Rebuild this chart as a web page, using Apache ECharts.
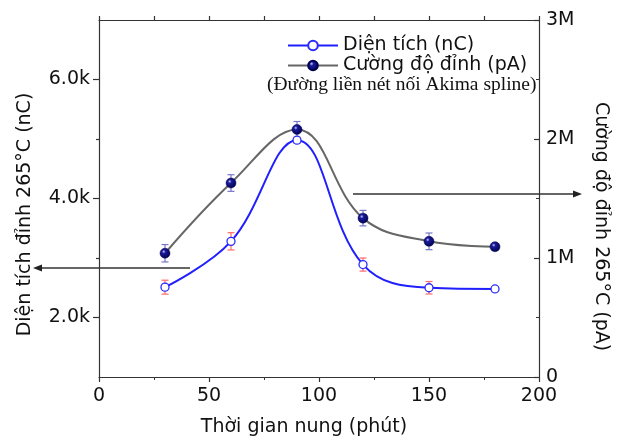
<!DOCTYPE html>
<html>
<head>
<meta charset="utf-8">
<script src="https://cdn.jsdelivr.net/npm/echarts@6/dist/echarts.min.js"></script>
<style>html,body{margin:0;padding:0;background:#fff;}#c{width:620px;height:442px;}</style>
</head>
<body>
<div id="c"></div>
<script>
// ---- data ----
const times = [30, 60, 90, 120, 150, 180];                 // Thời gian nung (phút)
const areaValues = [2510, 3280, 4980, 2890, 2500, 2480];    // Diện tích (nC)
const areaErrors = [117, 145, 50, 110, 105, 35];
const peakValues = [1040000, 1630000, 2080000, 1335000, 1140000, 1095000]; // Cường độ đỉnh (pA)
const peakErrors = [73000, 70000, 67000, 65000, 70000, 15000];
const leftMajorTicks = [2000, 4000, 6000];
const leftMinorTicks = [3000, 5000];

const SANS = 'DejaVu Sans';
const chart = echarts.init(document.getElementById('c'), null, {renderer: 'canvas'});

const areaPoints = times.map((t, i) => [t, areaValues[i]]);
const peakPoints = times.map((t, i) => [t, peakValues[i]]);
const areaErrData = times.map((t, i) => [t, areaValues[i] - areaErrors[i], areaValues[i] + areaErrors[i]]);
const peakErrData = times.map((t, i) => [t, peakValues[i] - peakErrors[i], peakValues[i] + peakErrors[i]]);

function errorBar(color) {
  return function (params, api) {
    const x = api.value(0);
    const lo = api.coord([x, api.value(1)]);
    const hi = api.coord([x, api.value(2)]);
    const hw = 3.5;
    const st = {stroke: color, lineWidth: 1.2};
    return {
      type: 'group',
      children: [
        {type: 'line', shape: {x1: lo[0], y1: lo[1], x2: hi[0], y2: hi[1]}, style: st},
        {type: 'line', shape: {x1: lo[0] - hw, y1: lo[1], x2: lo[0] + hw, y2: lo[1]}, style: st},
        {type: 'line', shape: {x1: hi[0] - hw, y1: hi[1], x2: hi[0] + hw, y2: hi[1]}, style: st}
      ]
    };
  };
}

const axisLineStyle = {color: '#333', width: 1.2};
const navyBall = {
  type: 'radial', x: 0.38, y: 0.35, r: 0.7,
  colorStops: [
    {offset: 0, color: '#c8c8ff'},
    {offset: 0.25, color: '#1a1a9a'},
    {offset: 1, color: '#00004a'}
  ]
};

const option = {
  animation: false,
  backgroundColor: '#fff',
  grid: {left: 99, right: 81, top: 20, bottom: 65, containLabel: false, outerBoundsMode: 'none'},
  legend: {
    orient: 'vertical',
    left: 282, top: 31,
    itemWidth: 50, itemHeight: 12, itemGap: 1,
    textStyle: {fontFamily: SANS, fontSize: 19, color: '#111'},
    data: ['Diện tích (nC)', 'Cường độ đỉnh (pA)']
  },
  xAxis: [
    {
      type: 'value', min: 0, max: 200, interval: 50, position: 'bottom',
      name: 'Thời gian nung (phút)', nameLocation: 'middle', nameGap: 41,
      nameTextStyle: {fontFamily: SANS, fontSize: 19, color: '#111', padding: [0, 30, 0, 0]},
      axisLine: {show: true, lineStyle: axisLineStyle},
      axisTick: {show: true, inside: false, length: 5, lineStyle: axisLineStyle},
      minorTick: {show: true, splitNumber: 2, length: 3, lineStyle: {color: '#333', width: 1}},
      axisLabel: {fontFamily: SANS, fontSize: 19, color: '#111', margin: 10},
      splitLine: {show: false}
    },
    {
      type: 'value', min: 0, max: 200, interval: 25, position: 'top',
      axisLine: {show: true, onZero: false, lineStyle: axisLineStyle},
      axisTick: {show: true, inside: false, length: 4, lineStyle: axisLineStyle},
      axisLabel: {show: false},
      splitLine: {show: false}
    }
  ],
  yAxis: [
    {
      type: 'value', min: 1000, max: 7000, position: 'left',
      name: 'Diện tích đỉnh 265°C (nC)', nameLocation: 'middle', nameGap: 64,
      nameTextStyle: {fontFamily: SANS, fontSize: 19, color: '#111', padding: [0, 32, 0, 0]},
      axisLine: {show: true, onZero: false, lineStyle: axisLineStyle},
      axisTick: {show: true, inside: false, length: 6, customValues: leftMajorTicks, lineStyle: axisLineStyle},
      axisLabel: {
        fontFamily: SANS, fontSize: 19, color: '#111', margin: 9,
        customValues: leftMajorTicks,
        formatter: v => (v / 1000).toFixed(1) + 'k'
      },
      splitLine: {show: false}
    },
    {
      type: 'value', min: 0, max: 3000000, interval: 1000000, position: 'right',
      name: 'Cường độ đỉnh 265°C (pA)', nameLocation: 'middle', nameGap: 52, nameRotate: -90,
      nameTextStyle: {fontFamily: SANS, fontSize: 19, color: '#111', padding: [0, 0, 0, 56]},
      axisLine: {show: true, onZero: false, lineStyle: axisLineStyle},
      axisTick: {show: true, inside: true, length: 5, lineStyle: axisLineStyle},
      minorTick: {show: true, splitNumber: 2, length: 3, lineStyle: {color: '#333', width: 1}},
      axisLabel: {
        fontFamily: SANS, fontSize: 19, color: '#111', margin: 7,
        formatter: v => v === 0 ? '0' : (v / 1000000) + 'M'
      },
      splitLine: {show: false}
    },
    {
      type: 'value', min: 1000, max: 7000, position: 'left',
      axisLine: {show: false},
      axisTick: {show: true, inside: false, length: 3, customValues: leftMinorTicks, lineStyle: axisLineStyle},
      axisLabel: {show: false},
      splitLine: {show: false}
    }
  ],
  series: [
    {
      name: 'Diện tích (nC)', type: 'line', xAxisIndex: 0, yAxisIndex: 0,
      data: areaPoints, smooth: 0.4, z: 3,
      symbol: 'circle', symbolSize: 8, showSymbol: true,
      lineStyle: {color: '#1f1fff', width: 2},
      itemStyle: {color: '#ffffff', borderColor: '#2a2aff', borderWidth: 1.3}
    },
    {
      name: 'Cường độ đỉnh (pA)', type: 'line', xAxisIndex: 0, yAxisIndex: 1,
      data: peakPoints, smooth: 0.4, z: 3,
      symbol: 'circle', symbolSize: 10, showSymbol: true,
      lineStyle: {color: '#666666', width: 2},
      itemStyle: {color: navyBall, borderColor: '#000050', borderWidth: 0.5}
    },
    {
      type: 'custom', xAxisIndex: 0, yAxisIndex: 0, z: 2,
      renderItem: errorBar('#ff6a6a'), data: areaErrData, silent: true
    },
    {
      type: 'custom', xAxisIndex: 0, yAxisIndex: 1, z: 2,
      renderItem: errorBar('#7777c8'), data: peakErrData, silent: true
    }
  ],
  graphic: [
    {
      type: 'text', left: 267, top: 75, z: 10,
      style: {text: '(Đường liền nét nối Akima spline)', font: '19.5px "Liberation Serif"', fill: '#111'}
    },
    {type: 'line', shape: {x1: 190, y1: 268, x2: 40, y2: 268}, style: {stroke: '#333', lineWidth: 1.5}, z: 10},
    {type: 'polygon', shape: {points: [[33, 268], [42, 264.5], [42, 271.5]]}, style: {fill: '#222'}, z: 10},
    {type: 'line', shape: {x1: 353, y1: 194, x2: 574, y2: 194}, style: {stroke: '#333', lineWidth: 1.5}, z: 10},
    {type: 'polygon', shape: {points: [[582, 194], [573, 190.5], [573, 197.5]]}, style: {fill: '#222'}, z: 10}
  ]
};
chart.setOption(option);
</script>
</body>
</html>
